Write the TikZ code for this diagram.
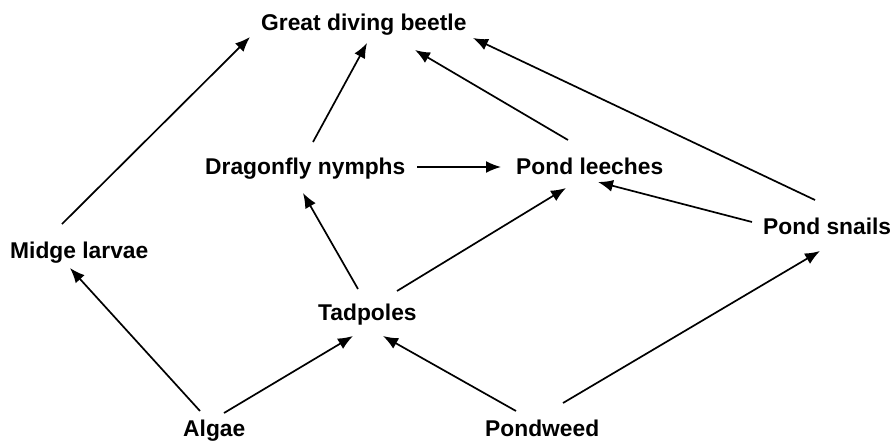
\documentclass[tikz,border=0pt]{standalone}
\usepackage{fontspec}
\setmainfont{Liberation Sans}
\usetikzlibrary{arrows.meta}
\tikzset{
  lbl/.style={anchor=base west, inner sep=0pt, font=\fontsize{22.8}{28}\selectfont\bfseries},
  arr/.style={-{Latex[length=15pt,width=12pt]}, line width=1.7pt, black}
}
\begin{document}
\begin{tikzpicture}[x=1pt,y=-1pt]
\useasboundingbox (0,0) rectangle (896,442);
\node[lbl] (gdb) at (261,30) {Great diving beetle};
\node[lbl] (dn) at (205,174) {Dragonfly nymphs};
\node[lbl] (pl) at (516,174) {Pond leeches};
\node[lbl] (ml) at (10,258) {Midge larvae};
\node[lbl] (ps) at (763,234) {Pond snails};
\node[lbl] (tp) at (318,320) {Tadpoles};
\node[lbl] (al) at (183,436) {Algae};
\node[lbl] (pw) at (485,436) {Pondweed};

\draw[arr] ([shift={(52,-34)}]ml.base west) -- ([shift={(-11,7)}]gdb.base west);
\draw[arr] ([shift={(108,-32)}]dn.base west) -- ([shift={(106,13)}]gdb.base west);
\draw[arr] ([shift={(52,-34)}]pl.base west) -- ([shift={(154,20)}]gdb.base west);
\draw[arr] ([shift={(52,-34)}]ps.base west) -- ([shift={(212,8)}]gdb.base west);
\draw[arr] ([shift={(212,-7)}]dn.base west) -- ([shift={(-15,-7)}]pl.base west);
\draw[arr] ([shift={(-11,-12)}]ps.base west) -- ([shift={(82,8)}]pl.base west);
\draw[arr] ([shift={(40,-31)}]tp.base west) -- ([shift={(98,19)}]dn.base west);
\draw[arr] ([shift={(79,-29)}]tp.base west) -- ([shift={(50,14)}]pl.base west);
\draw[arr] ([shift={(17,-25)}]al.base west) -- ([shift={(60,10)}]ml.base west);
\draw[arr] ([shift={(41,-23)}]al.base west) -- ([shift={(35,16)}]tp.base west);
\draw[arr] ([shift={(31,-25)}]pw.base west) -- ([shift={(65,16)}]tp.base west);
\draw[arr] ([shift={(78,-33)}]pw.base west) -- ([shift={(57,17)}]ps.base west);
\end{tikzpicture}
\end{document}
